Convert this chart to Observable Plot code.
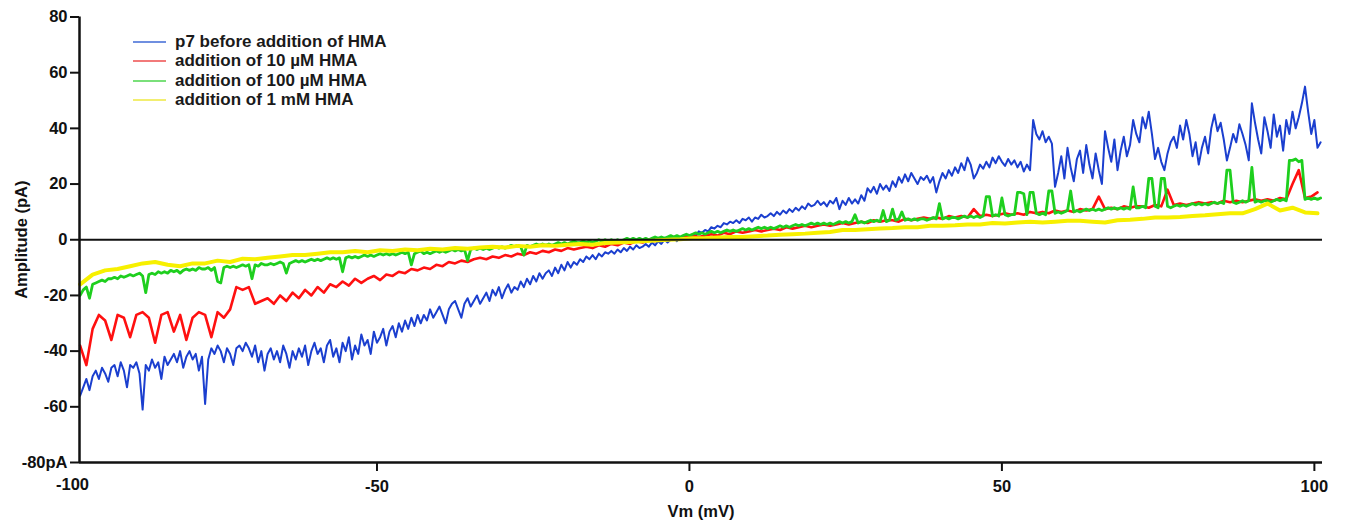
<!DOCTYPE html>
<html><head><meta charset="utf-8">
<script src="https://cdn.jsdelivr.net/npm/d3@7"></script>
<script src="https://cdn.jsdelivr.net/npm/@observablehq/plot@0.6"></script>
<style>
body{margin:0;background:#fff;}
#wrap{position:relative;width:1346px;height:522px;font-family:"Liberation Sans",Arial,sans-serif;}
#legend{position:absolute;left:133px;top:32.7px;font-weight:bold;font-size:17px;color:#1a1a1a;}
.row{display:flex;align-items:center;height:19.2px;white-space:nowrap;}
.sw{width:33px;height:2px;margin-right:9px;}
</style></head><body><div id="wrap"><div id="legend"></div></div>
<script>
const seriesNames = ["p7 before addition of HMA", "addition of 10 µM HMA", "addition of 100 µM HMA", "addition of 1 mM HMA"];
const seriesColors = ["#1b3fcf", "#ff1010", "#1ecf1e", "#f7f000"];
const legendColors = ["#6f8fe0", "#f27a7a", "#7ae07a", "#f2ee70"];
const xTicks = [-50, 0, 50, 100];
const xExtraLabel = [-100];
const yTicks = [-80, -60, -40, -20, 0, 20, 40, 60, 80];
const xDomain = [-97.6, 101.3];
const yDomain = [-80, 80];

// sweep sampling (mV): start and step for each recorded trace
const blueStart = -97.5, blueStep = 0.5;
const redStart = -97.5, redStep = 1;
const greenStart = -97.5, greenStep = 0.5;
const yellowStart = -97.5, yellowStep = 2;

const blueY = [
 -56,-53,-50,-54,-49,-47,-50,-46,-48,-51,
 -46,-45,-49,-44,-47,-53,-45,-46,-44,-48,
 -61,-45,-47,-43,-46,-44,-50,-42,-45,-43,
 -41,-44,-40,-46,-42,-40,-43,-41,-47,-42,
 -59,-43,-39,-41,-38,-40,-44,-39,-41,-45,
 -39,-38,-40,-37,-39,-42,-38,-44,-40,-47,
 -41,-39,-43,-40,-44,-38,-41,-46,-40,-43,
 -39,-42,-38,-45,-40,-37,-41,-39,-44,-38,
 -36,-42,-39,-44,-37,-40,-35,-43,-38,-41,
 -34,-38,-36,-41,-33,-37,-35,-32,-38,-33,
 -31,-35,-30,-33,-29,-32,-28,-31,-27,-30,
 -27,-29,-25,-28,-26,-24,-27,-30,-25,-23,
 -22,-25,-28,-23,-21,-24,-22,-20,-23,-21,
 -19,-22,-18,-20,-17,-21,-18,-16,-19,-17,
 -18,-15,-17,-14,-16,-13,-15,-12,-14,-12,
 -11,-13,-10,-12,-9,-11,-8,-10,-8,-9,
 -7,-8,-6,-7,-5.5,-7,-5,-6,-4.5,-5,
 -4,-5,-3.5,-4.5,-3,-4,-2.5,-3.5,-2,-3,
 -2.5,-1.5,-2.5,-1,-2,-0.5,-1.5,0,-1,0,
 0.5,-0.5,1,0,1.5,0.5,2,1.5,3,2.5,
 3.5,3,4.5,4,5,4.5,6,5.5,6.5,6,
 7,6,7.5,7,8,6.5,8,7.5,9,8,
 8.5,9.5,8.5,10,9,10.5,9.5,11,10,11.5,
 10.5,12,11,13,12,12.5,14,12.5,13.5,12,
 14,13,15,11,14,12.5,15,13,14.5,13,
 16,14,18.5,17,19,16.5,20,18,19.5,17.5,
 21,19,22.5,20.5,23.5,21,24,22,20,22.5,
 21.5,23,20.5,22.5,17,21,24,22,25,23,
 26,24,27.5,25,29.5,27,22,24,27,25.5,
 28,26,29.5,27.5,30,28,26.5,29,27,28.5,
 26,28,24.5,27,25,43,38,36,39,35,
 37,34.5,19,24,30,22,33,26,21,29,
 32,24,34,27,22,31,25,20,39,33,
 28,36,25,32,37,30,34,43,38,35,
 44,40,46,38,29,33,28,25,31,35,
 37,33,41,36,43,38,30,35,27,33,
 37,31,40,45,39,42,36,28.5,33,38,
 35,41.5,38,34,28.5,49,42,36,31,44,
 39,33,45,37,41,32,43,38,46,40,
 44,49,55,46,38,43,33,35
];

const redY = [
 -38,-45,-32,-27,-29,-36,-27,-28,-35,-27,
 -26,-28,-37,-27,-26,-33,-27,-36,-28,-26,
 -27,-35,-26,-28,-25,-17,-18,-17,-23,-22,
 -21,-23,-20,-22,-19,-21,-18,-20,-17,-19,
 -16,-17,-15,-16.5,-14,-15.5,-14,-13,-14.5,-12.5,
 -13,-11.5,-12,-10.5,-11,-10,-10.5,-9,-9.5,-8,
 -8.5,-7.5,-8,-7,-6.5,-7,-6,-6.5,-5.5,-6,
 -5,-5.5,-4.5,-5,-4,-4.5,-3.5,-4,-3,-3.5,
 -3,-2.5,-3,-2,-2.5,-1.5,-2,-1,-1.5,-0.5,
 -1,0,-0.5,0.5,0,1,0.5,1,1.5,1,
 1.5,2,1.5,2.5,2,3,2.5,3,3.5,3,
 3.5,4,3.5,4.5,4,4.5,5,4.5,5,5.5,
 5,5.5,6,5.5,6,6.5,6,7,6.5,7,
 7,6.5,7.5,7,7.5,8,7.5,8,7.5,8.5,
 8,8.5,8,11,8.5,9,8.5,9,9.5,9,
 9.5,9,10,9.5,10,9.5,10.5,10,10.5,10,
 11,10.5,11,15.5,11,11.5,11,12,11.5,12,
 12,11.5,12.5,12,18,12.5,13,12.5,13,13.5,
 13,13.5,13,14,13.5,14,13.5,14,14.5,14,
 14.5,14,15,14.5,20,25,15,15.5,17
];

const greenY = [
 -20,-18,-17,-21,-16,-15.5,-15,-14.5,-15,-14,
 -14,-13.5,-14,-13,-13.5,-13,-12.5,-13,-12.5,-12,
 -13,-19,-12.5,-12,-12.5,-11.5,-12,-11.5,-12,-11,
 -11.5,-11,-12,-11,-10.5,-11,-10.5,-11,-10,-10.5,
 -10.5,-10,-11,-10,-15,-15.5,-10,-9.5,-10,-9.5,
 -10,-9.5,-9,-9.5,-9,-14,-9,-9.5,-8.5,-9,
 -9,-8.5,-9,-8.5,-8,-8.5,-12,-8.5,-8,-7.5,
 -8,-7.5,-8,-7.5,-7,-7.5,-7,-7.5,-7,-6.5,
 -7,-6.5,-7,-6.5,-11.5,-6.5,-6,-6.5,-6,-6.5,
 -6,-5.5,-6,-5.5,-6,-5.5,-5,-5.5,-5,-5.5,
 -5,-5.5,-5,-4.5,-5,-4.5,-9,-5,-4.5,-4,
 -5,-4.5,-5,-4.5,-4,-4.5,-4,-4.5,-4,-3.5,
 -4,-3.5,-4,-3.5,-7.5,-3.5,-3,-3.5,-3,-3.5,
 -3,-3.5,-3,-2.5,-3,-2.5,-3,-2.5,-2,-2.5,
 -2,-2.5,-5.5,-2,-2.5,-2,-1.5,-2,-1.5,-2,
 -1.5,-2,-1.5,-1,-1.5,-1,-1.5,-1,-0.5,-1,
 -1,-0.5,-1,-0.5,-1,-0.5,0,-0.5,0,-0.5,
 0,-0.5,0,-0.5,0,0.5,0,0.5,0,0.5,
 0,0.5,0,0.5,1,0.5,1,0.5,1,1.5,
 1,1.5,1,1.5,2,1.5,2,2.5,2,2.5,
 2,2.5,3,2.5,3,2.5,3,3.5,3,3.5,
 3,3.5,4,3.5,4,3.5,4,4.5,4,4.5,
 4,4.5,4,4.5,5,4.5,5,4.5,5,5.5,
 5,5.5,5,5.5,6,5.5,6,5.5,6,5.5,
 6,5.5,6,6.5,6,6.5,6,6.5,9,6,
 6.5,6,6.5,7,6.5,7,6.5,10.5,6.5,7,
 11,7,7.5,10,7,7.5,7,7.5,7,7.5,
 7.5,7,7.5,8,7.5,13,7.5,8,7.5,8,
 8,7.5,8,8.5,8,8.5,8,8.5,8,8.5,
 15.5,15.5,8.5,9,8.5,15,9,8.5,9,9,
 17,17,16.5,9,17,17,9.5,9,9.5,9,
 17.5,17.5,9.5,10,9.5,10,10.5,17.5,10,10.5,
 10,10.5,11,10.5,11,10.5,11,10.5,11,11.5,
 11,11.5,11,11.5,11,11.5,11,19,11.5,11.5,
 12,11.5,22,22,12,11.5,22,22,12,11.5,
 12,12.5,12,12.5,12,12.5,13,12.5,13,12.5,
 13,12.5,13,13.5,13,13.5,13,25,25,13.5,
 13,13.5,14,13.5,14,26,13.5,14,13.5,14,
 14,13.5,14,14.5,14,14.5,14,28.5,28.5,29,
 28,28.5,14.5,15,14.5,15,14.5,15
];

const yellowY = [
 -16,-12.5,-11,-10.5,-9.5,-8.5,-8,-9,-9.5,-8.5,
 -8.5,-7.5,-8,-6.8,-7,-6.5,-6,-5.5,-5.5,-5,
 -4.5,-4.5,-4,-4.5,-3.8,-4,-3.5,-3.8,-3.2,-3.5,
 -3,-3.2,-2.8,-2.5,-2.8,-2.2,-2.5,-2,-2.2,-1.8,
 -1.5,-1.8,-1.2,-1,-0.8,-0.5,-0.3,0,0.2,0.5,
 0.5,0.8,1,1,1.3,1.5,1.8,2,2.2,2.5,
 2.8,3.5,3.5,3.8,4,4.2,4.5,4.5,5,5,
 5.2,5.5,5.5,6,5.8,6.2,6.5,6.2,6.5,6.8,
 6.8,6.5,6.2,7,7.2,7.5,8,8,8.2,8.5,
 8.8,9.2,9.5,9.5,11,13,10.5,11.5,9.8,9.5
];

const toRows = (ys, start, step) => ys.map((y, i) => ({x: start + i * step, y}));
const traces = [
  toRows(blueY, blueStart, blueStep),
  toRows(redY, redStart, redStep),
  toRows(greenY, greenStart, greenStep),
  toRows(yellowY, yellowStart, yellowStep)
];
const widths = [2, 2.6, 2.8, 4];

const chart = Plot.plot({
  width: 1346, height: 522,
  marginLeft: 79, marginRight: 24, marginTop: 16.5, marginBottom: 60,
  style: {fontFamily: '"Liberation Sans", Arial, sans-serif', fontSize: "16.5px", fontWeight: "bold", color: "#111", background: "#fff"},
  x: {domain: xDomain},
  y: {domain: yDomain},
  marks: [
    Plot.axisY({ticks: yTicks, tickSize: 9, tickPadding: 3, strokeWidth: 2, fontSize: 16.5, tickFormat: d => d === -80 ? "-80pA" : String(d), label: "Amplitude (pA)", labelAnchor: "center", labelOffset: 64, labelArrow: "none"}),
    Plot.axisX({ticks: xTicks, tickSize: 9, tickPadding: 9, strokeWidth: 2, fontSize: 16.5, tickFormat: d => String(d), label: "Vm (mV)", labelAnchor: "center", labelOffset: 54, labelArrow: "none"}),
    Plot.text(xExtraLabel, {x: d => d, frameAnchor: "bottom", dy: 27, dx: 8, fontSize: 16.5, text: d => String(d)}),
    ...traces.map((t, i) => Plot.line(t, {x: "x", y: "y", stroke: seriesColors[i], strokeWidth: widths[i], strokeLinejoin: "round"})),
    Plot.ruleY([0], {stroke: "#111", strokeWidth: 2}),
    Plot.ruleX([xDomain[0]], {stroke: "#111", strokeWidth: 2.5}),
    Plot.ruleY([yDomain[0]], {stroke: "#111", strokeWidth: 2.5})
  ]
});
const wrap = document.getElementById("wrap");
wrap.insertBefore(chart, wrap.firstChild);
const legend = document.getElementById("legend");
seriesNames.forEach((n, i) => {
  const r = document.createElement("div"); r.className = "row";
  const s = document.createElement("div"); s.className = "sw"; s.style.background = legendColors[i];
  const t = document.createElement("span"); t.textContent = n;
  r.appendChild(s); r.appendChild(t); legend.appendChild(r);
});
</script></body></html>
